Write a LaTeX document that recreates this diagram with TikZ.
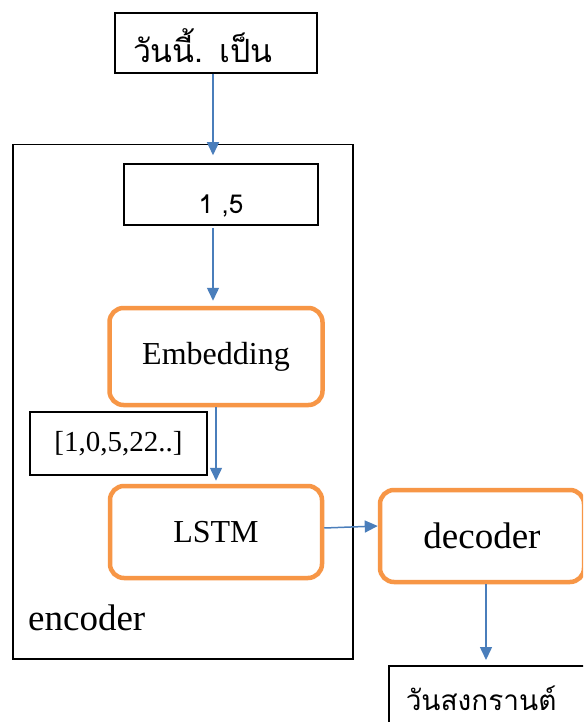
\documentclass[tikz,border=0pt]{standalone}
\usepackage{fontspec}
\setmainfont{Liberation Serif}
\newfontfamily\thaifont[Script=Thai]{Loma}
\usetikzlibrary{arrows.meta,calc}
\definecolor{orangeline}{HTML}{F79646}
\definecolor{arrowblue}{HTML}{4A7EBB}
% place a text with its baseline #1 below the node centre
\newcommand{\lowertext}[2]{\raisebox{-#1}[0pt][0pt]{#2}}

\begin{document}
\begin{tikzpicture}[x=1pt,y=-1pt,
  plainbox/.style={draw=black,line width=1.5pt,rectangle,inner sep=0pt},
  roundbox/.style={draw=orangeline,line width=4.5pt,rounded corners=14pt,inner sep=0pt},
  flow/.style={draw=arrowblue,line width=1.5pt,-{Triangle[width=12pt,length=13pt]}},
  serif/.style={font=\fontsize{32}{38}\selectfont}]
\useasboundingbox (0,0) rectangle (583,722);
\clip (0,0) rectangle (583,722);
\fill[white] (0,0) rectangle (583,722);

% encoder frame and its label
\node[plainbox, minimum width=340, minimum height=514, anchor=north west] (enc) at (12,144) {};
\node[font=\fontsize{37}{44}\selectfont, anchor=base west, inner sep=0pt] (enclabel) at (28,630) {encoder};

% input sentence and token ids
\node[plainbox, font=\thaifont\fontsize{32}{38}\selectfont, minimum width=202, minimum height=60, text width=166, align=left] (src) at (216,43) {\lowertext{20pt}{วันนี้. เป็น}};
\node[plainbox, font=\thaifont\fontsize{26}{32}\selectfont, minimum width=194, minimum height=61] (ids) at (221,194.5) {\lowertext{18.5pt}{1 ,5}};

% encoder layers
\node[roundbox, serif, minimum width=213, minimum height=97] (emb) at (216,356.5) {Embedding};
\node[plainbox, font=\fontsize{29}{35}\selectfont, minimum width=177, minimum height=63] (vec) at (118.5,443.5) {[1,0,5,22..]};
\node[roundbox, serif, minimum width=212, minimum height=92] (lstm) at (216,532) {LSTM};

% decoder and output
\node[roundbox, font=\fontsize{37}{44}\selectfont, minimum width=204, minimum height=92] (dec) at (482,536) {decoder};
\node[plainbox, font=\thaifont\fontsize{28}{34}\selectfont, minimum width=220, minimum height=64, text width=186, align=left, anchor=north west] (out) at (388,665) {\lowertext{13pt}{วันสงกรานต์}};

% connectors
\draw[flow, shorten >=8pt] ($(src.south)+(-3,0)$) -- ($(src.south |- ids.north)+(-3,0)$);
\draw[flow, shorten <=2pt, shorten >=5pt] ($(ids.south)+(-8,0)$) -- ($(ids.south |- emb.north)+(-8,0)$);
\draw[flow, shorten >=3pt] (emb.south) -- (lstm.north);
\draw[flow] ($(lstm.east)+(0,-4)$) -- ($(dec.west)+(0,-10)$);
\draw[flow, shorten >=5pt] ($(dec.south)+(4,0)$) -- ($(dec.south |- out.north)+(4,0)$);
\end{tikzpicture}
\end{document}
